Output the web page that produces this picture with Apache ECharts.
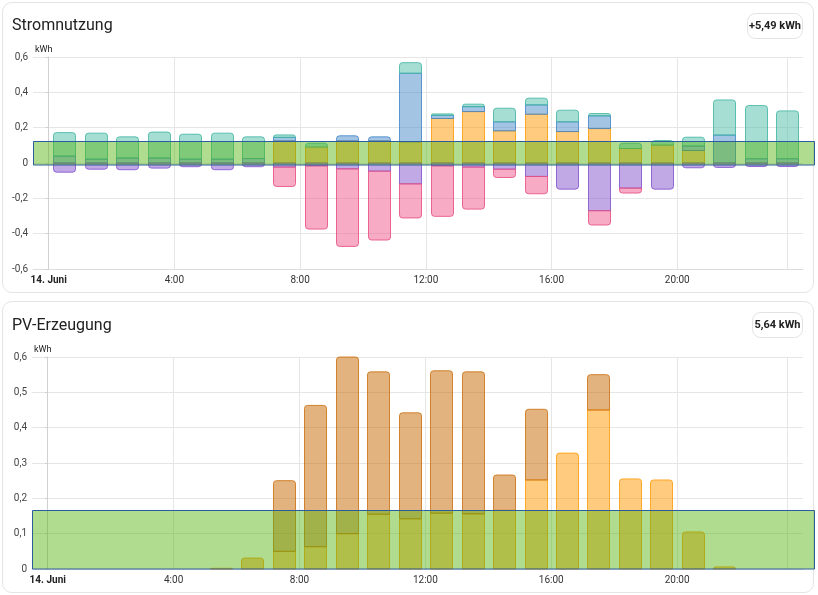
<!DOCTYPE html>
<html>
<head>
<meta charset="utf-8">
<script src="https://cdn.jsdelivr.net/npm/echarts@6/dist/echarts.min.js"></script>
<style>
  html, body { margin: 0; padding: 0; background: #fff; }
  #wrap { position: relative; width: 818px; height: 595px; }
  .card { position: absolute; left: 2px; width: 812px; box-sizing: border-box;
          border: 1px solid #e4e4e4; border-radius: 10px; background: #fff; }
  #chart { position: absolute; left: 0; top: 0; width: 818px; height: 595px; }
</style>
</head>
<body>
<div id="wrap">
  <div class="card" style="top:2px;height:291px"></div>
  <div class="card" style="top:301px;height:292px"></div>
  <div id="chart"></div>
</div>
<script>
// Stunden des Tages (Balken liegen jeweils in der Stundenmitte)
var hours = [0, 1, 2, 3, 4, 5, 6, 7, 8, 9, 10, 11, 12, 13, 14, 15, 16, 17, 18, 19, 20, 21, 22, 23];

// Stromnutzung (kWh) - positiv, von unten nach oben gestapelt
var solarUsed  = [0, 0, 0, 0, 0, 0, 0, 0.125, 0.09, 0.125, 0.125, 0.12, 0.252, 0.291, 0.182, 0.276, 0.178, 0.195, 0.082, 0.101, 0.071, 0, 0, 0];
var fromGrid   = [0.039, 0.022, 0.028, 0.028, 0.022, 0.022, 0.025, 0.02, 0, 0.029, 0.023, 0.388, 0.018, 0.028, 0.051, 0.053, 0.055, 0.072, 0, 0, 0.025, 0.158, 0.024, 0.024];
var fromBatt   = [0.133, 0.147, 0.12, 0.147, 0.141, 0.147, 0.123, 0.014, 0.022, 0, 0, 0.06, 0.008, 0.014, 0.077, 0.038, 0.066, 0.013, 0.03, 0.026, 0.05, 0.199, 0.301, 0.271];
// Stromnutzung (kWh) - negativ
var toBatt     = [-0.052, -0.035, -0.038, -0.029, -0.021, -0.038, -0.021, -0.023, -0.016, -0.033, -0.046, -0.118, -0.016, -0.023, -0.035, -0.076, -0.148, -0.27, -0.142, -0.148, -0.027, -0.025, -0.02, -0.02];
var toGrid     = [0, 0, 0, 0, 0, 0, 0, -0.11, -0.358, -0.439, -0.39, -0.193, -0.286, -0.238, -0.047, -0.098, 0, -0.081, -0.028, 0, 0, 0, 0, 0];

// PV-Erzeugung (kWh)
var pvOne = [0, 0, 0, 0, 0, 0.002, 0.031, 0.05, 0.063, 0.1, 0.155, 0.142, 0.158, 0.156, 0.166, 0.252, 0.328, 0.45, 0.255, 0.252, 0.105, 0.006, 0, 0];
var pvTwo = [0, 0, 0, 0, 0, 0, 0, 0.2, 0.4, 0.5, 0.403, 0.3, 0.403, 0.402, 0.1, 0.2, 0, 0.1, 0, 0, 0, 0, 0, 0];

// Achsen
var xTickHours  = [0, 4, 8, 12, 16, 20];
var xTickLabels = ['14. Juni', '4:00', '8:00', '12:00', '16:00', '20:00'];
var xGridHours  = [0, 4, 8, 12, 16, 20, 23.5];

var chart = echarts.init(document.getElementById('chart'));

// selbst stapeln: [x, von, bis, außen]
function stackData(lists, k) {
    var out = [];
    hours.forEach(function (h, i) {
        var v = lists[k][i];
        if (!v) return;
        var base = 0;
        for (var j = 0; j < k; j++) {
            if (lists[j][i] && (lists[j][i] > 0) === (v > 0)) base += lists[j][i];
        }
        var outer = 1;
        for (j = k + 1; j < lists.length; j++) {
            if (lists[j][i] && (lists[j][i] > 0) === (v > 0)) outer = 0;
        }
        out.push([h + 0.5, base, base + v, outer]);
    });
    return out;
}

function renderBar(fill, stroke) {
    return function (params, api) {
        var p0 = api.coord([api.value(0), api.value(1)]);
        var p1 = api.coord([api.value(0), api.value(2)]);
        var up = api.value(2) > api.value(1);
        var r = api.value(3) ? (up ? [3, 3, 0, 0] : [0, 0, 3, 3]) : 0;
        return {
            type: 'rect',
            shape: { x: Math.round(p0[0]) - 11 + 0.5, y: Math.min(p0[1], p1[1]), width: 22, height: Math.abs(p1[1] - p0[1]), r: r },
            style: { fill: fill, stroke: stroke, lineWidth: 1 }
        };
    };
}

function barSeries(name, lists, k, fill, stroke, axis) {
    return {
        name: name,
        type: 'custom',
        xAxisIndex: axis,
        yAxisIndex: axis,
        encode: { x: 0, y: [1, 2] },
        data: stackData(lists, k),
        renderItem: renderBar(fill, stroke)
    };
}

function xAxisOpt(grid) {
    return {
        type: 'value',
        gridIndex: grid,
        min: -0.5,
        max: 24,
        axisLine: { onZero: false, lineStyle: { color: '#dcdcdc' } },
        axisTick: { show: false, customValues: xGridHours },
        splitLine: { show: true, lineStyle: { color: '#e6e6e6' } },
        axisLabel: {
            customValues: xTickHours,
            fontSize: 10,
            color: '#333',
            margin: 6,
            fontFamily: 'Roboto',
            formatter: function (v) {
                var idx = xTickHours.indexOf(v);
                return idx === 0 ? '{b|' + xTickLabels[0] + '}' : xTickLabels[idx];
            },
            rich: { b: { fontWeight: 'bold', fontSize: 10, color: '#222', fontFamily: 'Roboto' } }
        }
    };
}

function yAxisOpt(grid, min, max, step) {
    return {
        type: 'value',
        gridIndex: grid,
        min: min,
        max: max,
        interval: step,
        axisLine: { show: true, lineStyle: { color: '#d0d0d0' } },
        axisTick: { show: true, length: 3, lineStyle: { color: '#d0d0d0' } },
        splitLine: { lineStyle: { color: '#e6e6e6' } },
        axisLabel: {
            fontSize: 10,
            color: '#444',
            margin: 5,
            fontFamily: 'Roboto',
            formatter: function (v) { return String(+v.toFixed(2)).replace('.', ','); }
        }
    };
}

var usage = [solarUsed, fromGrid, fromBatt, toBatt, toGrid];
var pv = [pvOne, pvTwo];
var overlayFill = 'rgba(80,178,9,0.45)';
var overlayStroke = '#2d5c9c';

function label(x, y, text, size, weight) {
    return { type: 'text', x: x, y: y, style: { text: text, fontSize: size, fontWeight: weight || 'normal',
        fontFamily: 'Roboto', fill: '#212121', verticalAlign: 'middle' } };
}

var option = {
    animation: false,
    grid: [
        { left: 33, top: 57, width: 770, height: 212 },
        { left: 32, top: 357, width: 771, height: 212 }
    ],
    xAxis: [xAxisOpt(0), xAxisOpt(1)],
    yAxis: [yAxisOpt(0, -0.6, 0.6, 0.2), yAxisOpt(1, 0, 0.6, 0.1)],
    series: [
        barSeries('Solar', usage, 0, 'rgba(255,152,0,0.5)', 'rgba(255,152,0,0.8)', 0),
        barSeries('Netz', usage, 1, 'rgba(72,140,200,0.5)', 'rgba(60,130,200,0.8)', 0),
        barSeries('Batterie', usage, 2, 'rgba(77,190,170,0.5)', 'rgba(60,180,160,0.8)', 0),
        barSeries('In Batterie', usage, 3, 'rgba(131,84,206,0.5)', 'rgba(131,84,206,0.85)', 0),
        barSeries('Ins Netz', usage, 4, 'rgba(240,88,140,0.5)', 'rgba(232,80,130,0.85)', 0),
        barSeries('PV 1', pv, 0, 'rgba(255,152,0,0.5)', 'rgba(255,152,0,0.8)', 1),
        barSeries('PV 2', pv, 1, 'rgba(200,104,0,0.5)', 'rgba(205,115,20,0.85)', 1)
    ],
    graphic: [
        label(12, 26, 'Stromnutzung', 16),
        label(35, 50, 'kWh', 9),
        { type: 'rect', shape: { x: 747.5, y: 13.5, width: 55, height: 25, r: 8 }, style: { fill: '#fff', stroke: '#e2e2e2', lineWidth: 1 } },
        { type: 'text', x: 775, y: 26, style: { text: '+5,49 kWh', fontSize: 11, fontWeight: 'bold', fontFamily: 'Roboto', fill: '#212121', align: 'center', verticalAlign: 'middle' } },
        label(12, 326, 'PV-Erzeugung', 16),
        label(34, 350, 'kWh', 9),
        { type: 'rect', shape: { x: 752.5, y: 312.5, width: 50, height: 25, r: 8 }, style: { fill: '#fff', stroke: '#e2e2e2', lineWidth: 1 } },
        { type: 'text', x: 777.5, y: 325, style: { text: '5,64 kWh', fontSize: 11, fontWeight: 'bold', fontFamily: 'Roboto', fill: '#212121', align: 'center', verticalAlign: 'middle' } },
        { type: 'rect', z: 100, shape: { x: 33.5, y: 141.5, width: 781, height: 23.5 }, style: { fill: overlayFill, stroke: overlayStroke, lineWidth: 1 } },
        { type: 'rect', z: 100, shape: { x: 32.5, y: 510.5, width: 782, height: 58.5 }, style: { fill: overlayFill, stroke: overlayStroke, lineWidth: 1 } }
    ]
};

chart.setOption(option);
</script>
</body>
</html>
